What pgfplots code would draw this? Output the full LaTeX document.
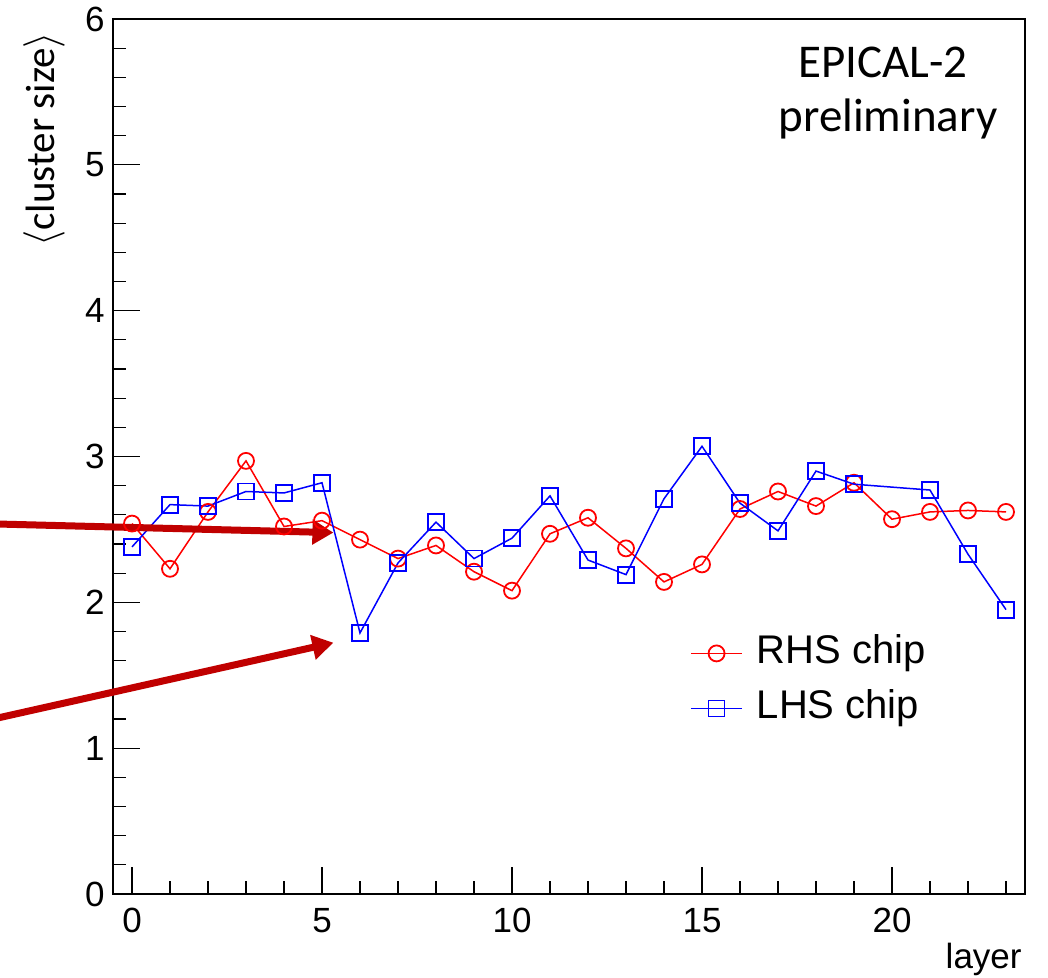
\documentclass[border=0pt]{standalone}
\usepackage{fontspec}
\setmainfont{Liberation Sans}
\newfontfamily\calibri{Carlito}
\usepackage{pgfplots}
\usepackage{pgfplotstable}
\pgfplotsset{compat=1.18}
\usetikzlibrary{arrows.meta}
\definecolor{arrowred}{RGB}{192,0,0}

\pgfplotstableread{
x y
0 2.54
1 2.23
2 2.62
3 2.97
4 2.52
5 2.56
6 2.43
7 2.30
8 2.39
9 2.21
10 2.08
11 2.47
12 2.58
13 2.37
14 2.14
15 2.26
16 2.64
17 2.76
18 2.66
19 2.82
20 2.57
21 2.62
22 2.63
23 2.62
}\rhs

\pgfplotstableread{
x y
0 2.38
1 2.67
2 2.66
3 2.76
4 2.75
5 2.82
6 1.79
7 2.27
8 2.55
9 2.30
10 2.44
11 2.73
12 2.29
13 2.19
14 2.71
15 3.07
16 2.68
17 2.49
18 2.90
19 2.81
21 2.77
22 2.33
23 1.95
}\lhs

\begin{document}
\begin{tikzpicture}[x=1pt,y=1pt]
\useasboundingbox (0,0) rectangle (524,489);
\begin{axis}[
  at={(56.5pt,42pt)}, anchor=south west,
  scale only axis, width=456pt, height=437.5pt,
  xmin=-0.5, xmax=23.5, ymin=0, ymax=6,
  clip=false,
  axis line style={line width=1pt},
  tick align=inside,
  xtick pos=bottom, ytick pos=left,
  major tick length=13.5pt, minor tick length=6.5pt,
  every tick/.style={line width=0.6pt, black},
  xtick={0,5,10,15,20},
  minor xtick={1,2,3,4,6,7,8,9,11,12,13,14,16,17,18,19,21,22,23},
  ytick={0,1,2,3,4,5,6},
  minor y tick num=4,
  /pgf/number format/assume math mode=true,
  ticklabel style={font=\fontsize{17.5}{20}\selectfont},
  xticklabel style={inner sep=0pt, yshift=-7pt},
  yticklabel style={inner sep=0pt, xshift=-4pt},
  xlabel={layer},
  xlabel style={font=\fontsize{17.5}{20}\selectfont, at={(axis description cs:1,0)}, anchor=north east, inner sep=0pt, yshift=-24.5pt, xshift=-1.5pt},
  ylabel={\calibri $\langle$cluster size$\rangle$},
  ylabel style={font=\fontsize{20.5}{24}\selectfont, at={(axis description cs:-0.0757,0.9855)}, anchor=east, inner sep=0pt},
  legend style={draw=none, fill=none, at={(axis description cs:0.626,0.3017)}, anchor=north west,
    font=\fontsize{20}{24}\selectfont, row sep=8.5pt,
    nodes={inner ysep=0pt, inner xsep=7pt, text height=14.5pt, text depth=4.5pt}},
  legend cell align=left,
  legend image code/.code={\draw[mark repeat=2, mark phase=2] plot coordinates {(0pt,0pt) (12.75pt,0pt) (25.5pt,0pt)};},
]
\addplot[red, line width=0.75pt, mark=o, mark size=4pt, mark options={line width=0.9pt, solid}] table {\rhs};
\addlegendentry{RHS chip}
\addplot[blue, line width=0.75pt, mark=square, mark size=4pt, mark options={line width=0.9pt, solid}] table {\lhs};
\addlegendentry{LHS chip}

\node[font=\calibri\fontsize{23.5}{28}\selectfont, anchor=base] at (axis description cs:0.8443,0.9337) {EPICAL-2};
\node[font=\calibri\fontsize{23.5}{28}\selectfont, anchor=base] at (axis description cs:0.8498,0.8709) {preliminary};

\draw[arrowred, line width=3.5pt, -{Triangle[length=10.5pt,width=12pt]}] (axis cs:-3.53,2.537) -- (axis cs:5.3,2.478);
\draw[arrowred, line width=3.5pt, -{Triangle[length=10.5pt,width=12pt]}] (axis cs:-3.53,1.207) -- (axis cs:5.3,1.723);
\end{axis}
\end{tikzpicture}
\end{document}
